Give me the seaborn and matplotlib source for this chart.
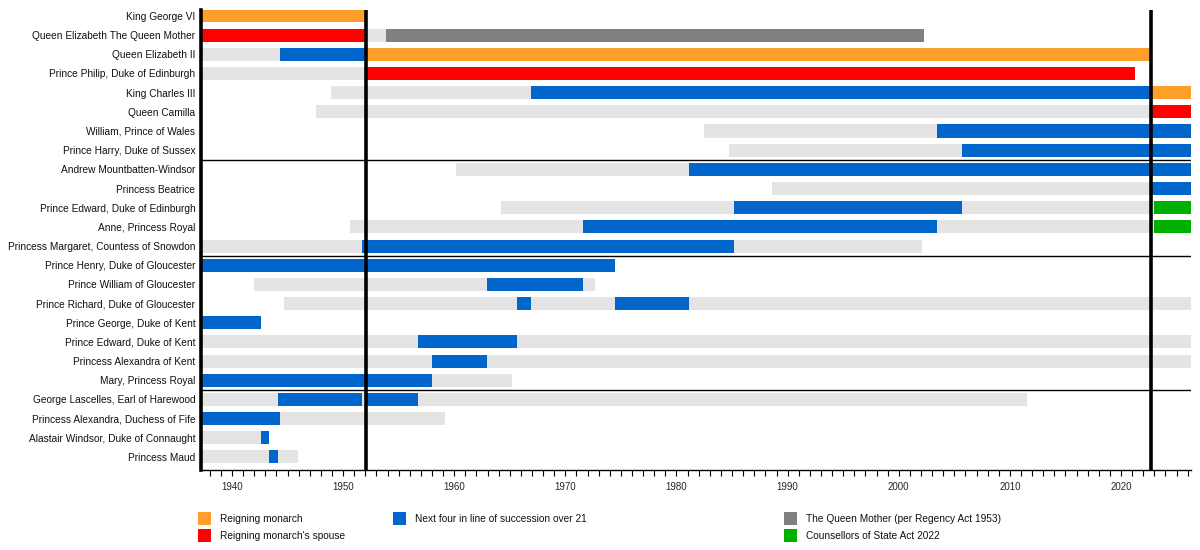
import numpy as np
import pandas as pd
import matplotlib
matplotlib.use("Agg")
import matplotlib.pyplot as plt
import seaborn as sns
from matplotlib.patches import Rectangle
from matplotlib.ticker import MultipleLocator

people = [
    "King George VI",
    "Queen Elizabeth The Queen Mother",
    "Queen Elizabeth II",
    "Prince Philip, Duke of Edinburgh",
    "King Charles III",
    "Queen Camilla",
    "William, Prince of Wales",
    "Prince Harry, Duke of Sussex",
    "Andrew Mountbatten-Windsor",
    "Princess Beatrice",
    "Prince Edward, Duke of Edinburgh",
    "Anne, Princess Royal",
    "Princess Margaret, Countess of Snowdon",
    "Prince Henry, Duke of Gloucester",
    "Prince William of Gloucester",
    "Prince Richard, Duke of Gloucester",
    "Prince George, Duke of Kent",
    "Prince Edward, Duke of Kent",
    "Princess Alexandra of Kent",
    "Mary, Princess Royal",
    "George Lascelles, Earl of Harewood",
    "Princess Alexandra, Duchess of Fife",
    "Alastair Windsor, Duke of Connaught",
    "Princess Maud",
]

t0 = 1937.21   # Regency Act 1937
t_end = 2026.3

# one entry per bar segment: row, start year, end year, kind
seg_row = [0,
           1, 1, 1,
           2, 2, 2,
           3, 3,
           4, 4, 4,
           5, 5,
           6, 6,
           7, 7,
           8, 8,
           9, 9,
           10, 10, 10, 10,
           11, 11, 11, 11,
           12, 12, 12,
           13,
           14, 14, 14,
           15, 15, 15, 15, 15,
           16,
           17, 17, 17,
           18, 18, 18,
           19, 19,
           20, 20, 20, 20, 20,
           21, 21,
           22, 22,
           23, 23, 23]
seg_start = [t0,
             t0, 1952.10, 1953.88,
             t0, 1944.30, 1952.10,
             t0, 1952.10,
             1948.87, 1966.87, 2022.69,
             1947.54, 2022.69,
             1982.47, 2003.47,
             1984.71, 2005.71,
             1960.14, 1981.14,
             1988.60, 2022.69,
             1964.19, 1985.19, 2005.71, 2022.93,
             1950.63, 1971.63, 2003.47, 2022.93,
             t0, 1951.70, 1985.19,
             t0,
             1941.95, 1962.95, 1971.63,
             1944.64, 1965.64, 1966.87, 1974.45, 1981.14,
             t0,
             t0, 1956.77, 1965.64,
             t0, 1957.97, 1962.95,
             t0, 1957.97,
             t0, 1944.10, 1951.70, 1952.10, 1956.77,
             t0, 1944.30,
             t0, 1942.65,
             t0, 1943.29, 1944.10]
seg_end = [1952.10,
           1952.10, 1953.88, 2002.24,
           1944.30, 1952.10, 2022.69,
           1952.10, 2021.27,
           1966.87, 2022.69, t_end,
           2022.69, t_end,
           2003.47, t_end,
           2005.71, t_end,
           1981.14, t_end,
           2022.69, t_end,
           1985.19, 2005.71, 2022.93, t_end,
           1971.63, 2003.47, 2022.93, t_end,
           1951.70, 1985.19, 2002.11,
           1974.45,
           1962.95, 1971.63, 1972.66,
           1965.64, 1966.87, 1974.45, 1981.14, t_end,
           1942.65,
           1956.77, 1965.64, t_end,
           1957.97, 1962.95, t_end,
           1957.97, 1965.24,
           1944.10, 1951.70, 1952.10, 1956.77, 2011.55,
           1944.30, 1959.15,
           1942.65, 1943.29,
           1943.29, 1944.10, 1945.95]
seg_kind = ["monarch",
            "spouse", "none", "qm",
            "none", "heir", "monarch",
            "none", "spouse",
            "none", "heir", "monarch",
            "none", "spouse",
            "none", "heir",
            "none", "heir",
            "none", "heir",
            "none", "heir",
            "none", "heir", "none", "act",
            "none", "heir", "none", "act",
            "none", "heir", "none",
            "heir",
            "none", "heir", "none",
            "none", "heir", "none", "heir", "none",
            "heir",
            "none", "heir", "none",
            "none", "heir", "none",
            "heir", "none",
            "none", "heir", "none", "heir", "none",
            "heir", "none",
            "none", "heir",
            "none", "heir", "none"]

reign_changes = [1952.10, 2022.69]
group_breaks = [7.5, 12.5, 19.5]

kind_colors = {
    "monarch": "#ff9f2b",
    "spouse": "#ff0000",
    "heir": "#0066cc",
    "qm": "#808080",
    "act": "#00b000",
    "none": "#e4e4e4",
}
legend_kinds = ["monarch", "spouse", "heir", "qm", "act"]
legend_labels = ["Reigning monarch", "Reigning monarch's spouse",
                 "Next four in line of succession over 21",
                 "The Queen Mother (per Regency Act 1953)",
                 "Counsellors of State Act 2022"]

df = pd.DataFrame({"row": seg_row, "start": seg_start, "end": seg_end, "kind": seg_kind})
df["width"] = df["end"] - df["start"]

sns.set_theme(style="white")
plt.rcParams["font.family"] = ["Liberation Sans", "DejaVu Sans"]

fig = plt.figure(figsize=(12, 5.5), dpi=100)
ax = fig.add_axes([201 / 1200, 1 - 470 / 550, 990 / 1200, 460 / 550])

for kind, grp in df.groupby("kind"):
    ax.barh(grp["row"], grp["width"], left=grp["start"], height=0.68,
            color=kind_colors[kind], linewidth=0)

for x in reign_changes:
    ax.axvline(x, color="black", lw=2.6, zorder=5)
for y in group_breaks:
    ax.axhline(y, color="black", lw=1, zorder=4)

ax.set_xlim(t0, t_end)
ax.set_ylim(len(people) - 1 + 0.68, -0.31)
ax.set_yticks(range(len(people)))
ax.set_yticklabels(people, fontsize=7.3, color="#111111")
ax.tick_params(axis="y", length=0, pad=4)

ax.xaxis.set_major_locator(MultipleLocator(10))
ax.xaxis.set_minor_locator(MultipleLocator(1))
ax.tick_params(axis="x", which="both", direction="out", length=4, width=0.8,
               color="black", bottom=True, labelsize=7, pad=5)

sns.despine(ax=ax, top=True, right=True)
ax.spines["left"].set_linewidth(2.6)
ax.spines["left"].set_color("black")
ax.spines["bottom"].set_linewidth(1)
ax.spines["bottom"].set_color("black")
ax.grid(False)

# legend under the chart
legend_pos = [(198, 512), (198, 529), (393, 512), (784, 512), (784, 529)]
for kind, label, (px, py) in zip(legend_kinds, legend_labels, legend_pos):
    fig.add_artist(Rectangle((px / 1200, 1 - (py + 13) / 550), 13 / 1200, 13 / 550,
                             transform=fig.transFigure, color=kind_colors[kind], lw=0))
    fig.text((px + 22) / 1200, 1 - (py + 7) / 550, label, fontsize=7.3,
             va="center", ha="left", color="#111111")

fig.savefig("out.png", dpi=100, facecolor="white")
